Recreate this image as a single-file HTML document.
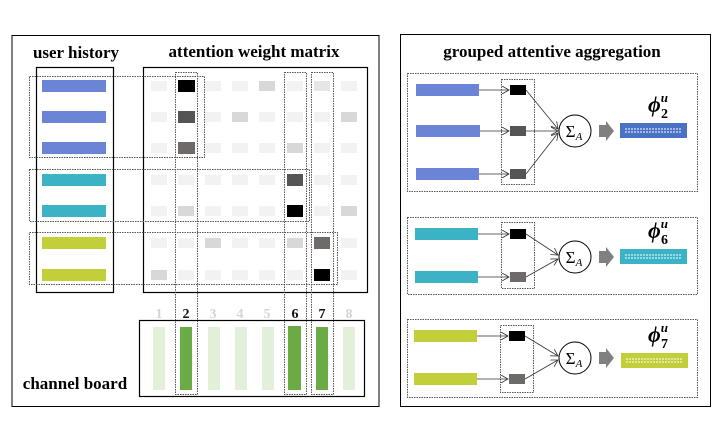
<!DOCTYPE html>
<html><head><meta charset="utf-8"><style>
html,body{margin:0;padding:0;background:#fff;}
svg{display:block;}
</style></head><body>
<svg width="723" height="427" viewBox="0 0 723 427" xmlns="http://www.w3.org/2000/svg" font-family="'Liberation Serif', 'DejaVu Serif', serif">
<defs>
<marker id="ah" markerWidth="8" markerHeight="8" refX="7" refY="4" orient="auto" markerUnits="userSpaceOnUse">
<path d="M0,0 L7,4 L0,8" fill="none" stroke="#333" stroke-width="0.8"/>
</marker>
</defs>
<!-- LEFT PANEL -->
<rect x="12" y="35.5" width="367" height="371" fill="none" stroke="#000" stroke-width="1"/>
<text x="76" y="58" font-size="17" font-weight="bold" font-family="'Liberation Serif', serif" text-anchor="middle">user history</text>
<text x="254" y="57" font-size="17" font-weight="bold" font-family="'Liberation Serif', serif" text-anchor="middle">attention weight matrix</text>
<rect x="36.5" y="67.5" width="77" height="225" fill="none" stroke="#000" stroke-width="1.2"/>
<rect x="143.5" y="67.5" width="224" height="225" fill="none" stroke="#000" stroke-width="1.2"/>
<g>
<rect x="42" y="80" width="64" height="12" fill="#6b84d6"/>
<rect x="42" y="111" width="64" height="12" fill="#6b84d6"/>
<rect x="42" y="142" width="64" height="12" fill="#6b84d6"/>
<rect x="42" y="174" width="64" height="12" fill="#3bb3c4"/>
<rect x="42" y="205" width="64" height="12" fill="#3bb3c4"/>
<rect x="42" y="237" width="64" height="12" fill="#c3cf3a"/>
<rect x="42" y="269" width="64" height="12" fill="#c3cf3a"/>
</g>
<g>
<g fill="#f2f2f2">
<rect x="151" y="81" width="16" height="10"/><rect x="205" y="81" width="16" height="10"/><rect x="232" y="81" width="16" height="10"/><rect x="287" y="81" width="16" height="10"/><rect x="341" y="81" width="16" height="10"/>
<rect x="151" y="112" width="16" height="10"/><rect x="205" y="112" width="16" height="10"/><rect x="259" y="112" width="16" height="10"/><rect x="287" y="112" width="16" height="10"/><rect x="314" y="112" width="16" height="10"/>
<rect x="151" y="143" width="16" height="10"/><rect x="205" y="143" width="16" height="10"/><rect x="232" y="143" width="16" height="10"/><rect x="259" y="143" width="16" height="10"/><rect x="314" y="143" width="16" height="10"/><rect x="341" y="143" width="16" height="10"/>
<rect x="151" y="175" width="16" height="10"/><rect x="178" y="175" width="16" height="10"/><rect x="205" y="175" width="16" height="10"/><rect x="232" y="175" width="16" height="10"/><rect x="259" y="175" width="16" height="10"/><rect x="314" y="175" width="16" height="10"/><rect x="341" y="175" width="16" height="10"/>
<rect x="151" y="206" width="16" height="10"/><rect x="205" y="206" width="16" height="10"/><rect x="232" y="206" width="16" height="10"/><rect x="259" y="206" width="16" height="10"/><rect x="314" y="206" width="16" height="10"/>
<rect x="151" y="238" width="16" height="10"/><rect x="178" y="238" width="16" height="10"/><rect x="232" y="238" width="16" height="10"/><rect x="259" y="238" width="16" height="10"/><rect x="341" y="238" width="16" height="10"/>
<rect x="178" y="270" width="16" height="10"/><rect x="205" y="270" width="16" height="10"/><rect x="232" y="270" width="16" height="10"/><rect x="259" y="270" width="16" height="10"/><rect x="287" y="270" width="16" height="10"/><rect x="341" y="270" width="16" height="10"/>
</g>
<g fill="#d8d8d8">
<rect x="259" y="81" width="16" height="10"/><rect x="314" y="81" width="16" height="10" fill="#e6e6e6"/>
<rect x="232" y="112" width="16" height="10"/><rect x="341" y="112" width="16" height="10"/>
<rect x="287" y="143" width="16" height="10"/>
<rect x="178" y="206" width="16" height="10"/><rect x="341" y="206" width="16" height="10"/>
<rect x="205" y="238" width="16" height="10"/><rect x="287" y="238" width="16" height="10"/>
<rect x="151" y="270" width="16" height="10"/>
</g>
<rect x="178" y="80" width="17" height="12" fill="#000"/>
<rect x="178" y="111" width="17" height="12" fill="#555"/>
<rect x="178" y="142" width="17" height="12" fill="#6f6a6a"/>
<rect x="287" y="174" width="16" height="12" fill="#555"/>
<rect x="287" y="205" width="16" height="12" fill="#000"/>
<rect x="314" y="237" width="16" height="12" fill="#6f6a6a"/>
<rect x="314" y="269" width="16" height="12" fill="#000"/>
</g>
<g fill="none" stroke="#555" stroke-width="1" stroke-dasharray="1.5,1">
<rect x="29.5" y="76.5" width="175" height="81"/>
<rect x="29.5" y="169.5" width="280" height="52"/>
<rect x="29.5" y="232.5" width="308" height="52"/>
<rect x="175.5" y="72.5" width="22" height="322"/>
<rect x="284.5" y="72.5" width="22" height="322"/>
<rect x="311.5" y="72.5" width="22" height="322"/>
</g>
<g font-size="14" font-weight="bold" font-family="'Liberation Serif', serif" text-anchor="middle">
<text x="159" y="318" fill="#d4d4d4">1</text><text x="186" y="318" fill="#111">2</text><text x="213" y="318" fill="#d4d4d4">3</text><text x="240" y="318" fill="#d4d4d4">4</text><text x="267" y="318" fill="#d4d4d4">5</text><text x="295" y="318" fill="#111">6</text><text x="322" y="318" fill="#111">7</text><text x="349" y="318" fill="#d4d4d4">8</text>
</g>
<rect x="139.5" y="320.5" width="225" height="76" fill="none" stroke="#000" stroke-width="1.2"/>
<g fill="#e2efd9">
<rect x="153" y="327" width="12" height="63"/><rect x="208" y="327" width="12" height="63"/><rect x="235" y="327" width="12" height="63"/><rect x="262" y="327" width="12" height="63"/><rect x="343" y="327" width="12" height="63"/>
</g>
<g fill="#6aab46">
<rect x="180" y="327" width="12" height="63"/><rect x="288" y="326" width="13" height="64"/><rect x="316" y="327" width="12" height="63"/>
</g>
<text x="75" y="389" font-size="17" font-weight="bold" font-family="'Liberation Serif', serif" text-anchor="middle">channel board</text>

<!-- RIGHT PANEL -->
<rect x="400.5" y="34.5" width="310" height="372" fill="none" stroke="#000" stroke-width="1"/>
<text x="552" y="57" font-size="17" font-weight="bold" font-family="'Liberation Serif', serif" text-anchor="middle">grouped attentive aggregation</text>
<g fill="none" stroke="#555" stroke-width="1" stroke-dasharray="1.5,1">
<rect x="407.5" y="73.5" width="290" height="118"/>
<rect x="407.5" y="217.5" width="290" height="77"/>
<rect x="407.5" y="319.5" width="290" height="78"/>
<rect x="501.5" y="79.5" width="33" height="105"/>
<rect x="501.5" y="222.5" width="33" height="66"/>
<rect x="500.5" y="325.5" width="33" height="67"/>
</g>
<g>
<rect x="416" y="84" width="63" height="12" fill="#6b84d6"/>
<rect x="416" y="125" width="64" height="12" fill="#6b84d6"/>
<rect x="416" y="168" width="63" height="12" fill="#6b84d6"/>
<g stroke="#333" stroke-width="0.8" fill="none" marker-end="url(#ah)">
<line x1="479" y1="90" x2="509" y2="90"/><line x1="480" y1="131" x2="509" y2="131"/><line x1="479" y1="174" x2="509" y2="174"/>
<line x1="526" y1="90" x2="558" y2="129"/><line x1="526" y1="131" x2="558" y2="131"/><line x1="526" y1="174" x2="558" y2="133"/>
</g>
<rect x="510" y="85" width="16" height="10" fill="#000"/>
<rect x="510" y="126" width="16" height="10" fill="#555"/>
<rect x="510" y="169" width="16" height="10" fill="#555"/>
<circle cx="575" cy="131" r="16" fill="#fff" stroke="#000" stroke-width="1"/>
<text x="574" y="137" font-size="17" text-anchor="middle">Σ<tspan font-size="11" font-style="italic" dy="3">A</tspan></text>
<path d="M599,125 L606,125 L606,121 L614,131 L606,141 L606,137 L599,137 Z" fill="#808080"/>
<rect x="620" y="123" width="67" height="15" fill="#4a72c4"/>
<line x1="625" y1="129" x2="682" y2="129" stroke="#fff" stroke-width="1" stroke-dasharray="2,1"/>
<line x1="625" y1="132" x2="682" y2="132" stroke="#fff" stroke-width="1" stroke-dasharray="2,1"/>
<text x="648" y="112" font-size="22" font-weight="bold" font-style="italic">ϕ<tspan font-size="13" dy="-10">u</tspan><tspan font-size="14" font-style="normal" dx="-7" dy="16">2</tspan></text>
</g>
<g>
<rect x="415" y="228" width="63" height="12" fill="#3bb3c4"/>
<rect x="415" y="271" width="63" height="12" fill="#3bb3c4"/>
<g stroke="#333" stroke-width="0.8" fill="none" marker-end="url(#ah)">
<line x1="478" y1="234" x2="509" y2="234"/><line x1="478" y1="277" x2="509" y2="277"/>
<line x1="526" y1="234" x2="558" y2="255"/><line x1="526" y1="277" x2="558" y2="259"/>
</g>
<rect x="510" y="229" width="16" height="10" fill="#000"/>
<rect x="510" y="272" width="16" height="10" fill="#6f6a6a"/>
<circle cx="575" cy="257" r="16" fill="#fff" stroke="#000" stroke-width="1"/>
<text x="574" y="263" font-size="17" text-anchor="middle">Σ<tspan font-size="11" font-style="italic" dy="3">A</tspan></text>
<path d="M599,251 L606,251 L606,247 L614,257 L606,267 L606,263 L599,263 Z" fill="#808080"/>
<rect x="620" y="249" width="67" height="15" fill="#3bb3c4"/>
<line x1="625" y1="255" x2="682" y2="255" stroke="#fff" stroke-width="1" stroke-dasharray="2,1"/>
<line x1="625" y1="258" x2="682" y2="258" stroke="#fff" stroke-width="1" stroke-dasharray="2,1"/>
<text x="648" y="238" font-size="22" font-weight="bold" font-style="italic">ϕ<tspan font-size="13" dy="-10">u</tspan><tspan font-size="14" font-style="normal" dx="-7" dy="16">6</tspan></text>
</g>
<g>
<rect x="414" y="330" width="63" height="12" fill="#c3cf3a"/>
<rect x="414" y="373" width="63" height="12" fill="#c3cf3a"/>
<g stroke="#333" stroke-width="0.8" fill="none" marker-end="url(#ah)">
<line x1="477" y1="336" x2="508" y2="336"/><line x1="477" y1="379" x2="508" y2="379"/>
<line x1="525" y1="336" x2="558" y2="356"/><line x1="525" y1="379" x2="558" y2="360"/>
</g>
<rect x="509" y="331" width="16" height="10" fill="#000"/>
<rect x="509" y="374" width="16" height="10" fill="#6f6a6a"/>
<circle cx="575" cy="358" r="16" fill="#fff" stroke="#000" stroke-width="1"/>
<text x="574" y="364" font-size="17" text-anchor="middle">Σ<tspan font-size="11" font-style="italic" dy="3">A</tspan></text>
<path d="M599,352 L606,352 L606,348 L614,358 L606,368 L606,364 L599,364 Z" fill="#808080"/>
<rect x="621" y="353" width="67" height="15" fill="#c3cf3a"/>
<line x1="626" y1="359" x2="683" y2="359" stroke="#fff" stroke-width="1" stroke-dasharray="2,1"/>
<line x1="626" y1="362" x2="683" y2="362" stroke="#fff" stroke-width="1" stroke-dasharray="2,1"/>
<text x="648" y="342" font-size="22" font-weight="bold" font-style="italic">ϕ<tspan font-size="13" dy="-10">u</tspan><tspan font-size="14" font-style="normal" dx="-7" dy="16">7</tspan></text>
</g>
</svg>
</body></html>
